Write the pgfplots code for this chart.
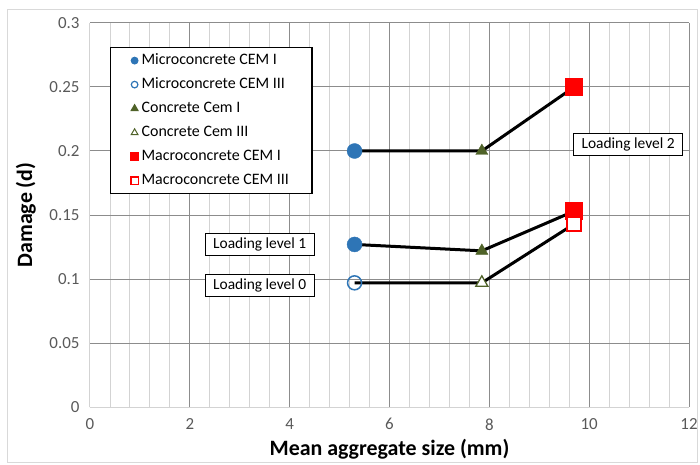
\documentclass[border=0pt]{standalone}
\usepackage{fontspec}
\setmainfont{Carlito}
\usepackage{pgfplots}
\pgfplotsset{compat=1.18}
\definecolor{mblue}{HTML}{2E75B6}
\definecolor{molive}{HTML}{4F6228}
\definecolor{mred}{HTML}{FF0000}
\definecolor{gridmaj}{HTML}{8C8C8C}
\definecolor{gridmin}{HTML}{D3D3D3}
\definecolor{ticktext}{HTML}{595959}
\definecolor{frame}{HTML}{D9D9D9}
\begin{document}
\begin{tikzpicture}
\useasboundingbox (-90bp,-58bp) rectangle (610bp,407bp);
\draw[frame, line width=1bp] (-82bp,-55bp) rectangle (607bp,397bp);
\begin{axis}[
  scale only axis, width=599bp, height=384bp,
  xmin=0, xmax=12, ymin=0, ymax=0.3,
  axis lines=left,
  axis line style={-, draw=gridmin, line width=1bp},
  xtick={0,2,4,6,8,10,12},
  ytick={0,0.05,0.1,0.15,0.2,0.25,0.3},
  yticklabels={0,0.05,0.1,0.15,0.2,0.25,0.3},
  minor x tick num=4,
  xmajorgrids, ymajorgrids, xminorgrids,
  major grid style={gridmaj, line width=1bp},
  minor grid style={gridmin, line width=0.9bp},
  major tick length=0pt, minor tick length=0pt,
  /pgf/number format/assume math mode=true,
  tick label style={ticktext, font=\fontsize{17}{20}\selectfont},
  xticklabel style={yshift=-8bp},
  yticklabel style={xshift=-7bp},
  xlabel={Mean aggregate size (mm)},
  ylabel={Damage (d)},
  xlabel style={font=\bfseries\fontsize{22}{26}\selectfont, at={(axis description cs:0.5,-0.109)}, anchor=center},
  ylabel style={font=\bfseries\fontsize{22}{26}\selectfont, at={(axis description cs:-0.107,0.5)}, anchor=center},
  legend cell align=left,
  legend image code/.code={\draw[mark repeat=2,mark phase=2,#1] plot coordinates {(0bp,0bp)(4bp,0bp)(8bp,0bp)};},
  legend style={at={(axis description cs:0.0334,0.9375)}, anchor=north west,
    draw=black, line width=1.2bp, fill=white,
    font=\fontsize{16}{19}\selectfont,
    inner xsep=20bp, inner ysep=3bp, row sep=4bp,
    nodes={text height=11bp, text depth=3bp, inner ysep=3bp, inner xsep=3bp}},
]
% markers
\addplot[only marks, mark=*, mark size=7.5bp, color=mblue, forget plot] coordinates {(5.3,0.2) (5.3,0.127)};
\addplot[only marks, mark=o, mark size=7bp, color=mblue, mark options={fill=white, line width=1.5bp}, forget plot] coordinates {(5.3,0.097)};
\addplot[only marks, mark=triangle*, mark size=7bp, color=molive, forget plot] coordinates {(7.85,0.2) (7.85,0.122)};
\addplot[only marks, mark=triangle*, mark size=7bp, color=molive, mark options={fill=white, line width=1.3bp}, forget plot] coordinates {(7.85,0.097)};
\addplot[only marks, mark=square*, mark size=8.5bp, color=mred, forget plot] coordinates {(9.7,0.25) (9.7,0.153)};
\addplot[only marks, mark=square*, mark size=7bp, color=mred, mark options={fill=white, line width=1.5bp}, forget plot] coordinates {(9.7,0.143)};
% lines
\addplot[black, line width=3bp, forget plot] coordinates {(5.3,0.2) (7.85,0.2) (9.7,0.25)};
\addplot[black, line width=3bp, forget plot] coordinates {(5.3,0.127) (7.85,0.122) (9.7,0.153)};
\addplot[black, line width=3bp, forget plot] coordinates {(5.3,0.097) (7.85,0.097) (9.7,0.143)};
% legend
\addlegendimage{only marks, mark=*, mark size=3.3bp, color=mblue}
\addlegendentry{Microconcrete CEM I}
\addlegendimage{only marks, mark=o, mark size=3.3bp, color=mblue, mark options={fill=white, line width=1.2bp}}
\addlegendentry{Microconcrete CEM III}
\addlegendimage{only marks, mark=triangle*, mark size=3.8bp, color=molive}
\addlegendentry{Concrete Cem I}
\addlegendimage{only marks, mark=triangle*, mark size=3.8bp, color=molive, mark options={fill=white, line width=1bp}}
\addlegendentry{Concrete Cem III}
\addlegendimage{only marks, mark=square*, mark size=4bp, color=mred}
\addlegendentry{Macroconcrete CEM I}
\addlegendimage{only marks, mark=square*, mark size=3.6bp, color=mred, mark options={fill=white, line width=1.2bp}}
\addlegendentry{Macroconcrete CEM III}
% annotation boxes
\node[draw=black, line width=1.2bp, fill=white, font=\fontsize{15.5}{18}\selectfont, inner xsep=8bp, inner ysep=5bp, text height=10bp, text depth=2bp] at (axis cs:3.4,0.127) {Loading level 1};
\node[draw=black, line width=1.2bp, fill=white, font=\fontsize{15.5}{18}\selectfont, inner xsep=8bp, inner ysep=5bp, text height=10bp, text depth=2bp] at (axis cs:3.4,0.095) {Loading level 0};
\node[draw=black, line width=1.2bp, fill=white, font=\fontsize{15.5}{18}\selectfont, inner xsep=8bp, inner ysep=5bp, text height=10bp, text depth=2bp] at (axis cs:10.78,0.205) {Loading level 2};
\end{axis}
\end{tikzpicture}
\end{document}
